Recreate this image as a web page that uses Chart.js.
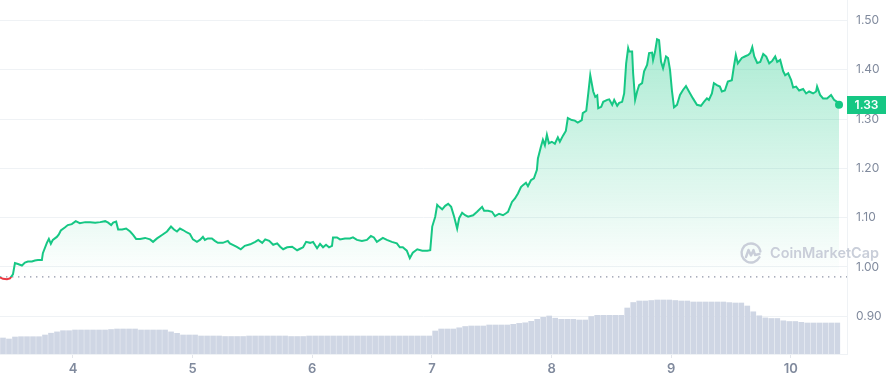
<!DOCTYPE html>
<html><head><meta charset="utf-8">
<script src="https://cdn.jsdelivr.net/npm/chart.js@4.4.0/dist/chart.umd.min.js"></script>
<style>html,body{margin:0;padding:0;background:#fff;}#wrap{width:889px;height:380px;}</style>
</head><body><div id="wrap"><canvas id="c" width="889" height="380"></canvas></div>
<script>
// ---- data (hours since start of the 7-day window) ----
const priceHours = [
0.0,0.6,1.4,2.0,2.6,3.0,3.6,4.4,5.0,5.6,6.4,7.0,7.6,8.4,8.6,9.4,9.8,10.2,10.6,11.4,
11.8,12.2,13.0,13.6,14.4,15.2,16.0,17.1,18.1,19.1,20.1,21.1,21.7,22.3,22.7,23.3,23.7,24.5,25.3,26.1,
26.7,27.3,28.1,29.1,30.1,
30.7,31.5,32.5,33.5,34.3,34.9,35.5,36.1,36.7,37.5,38.1,38.7,39.5,40.1,40.7,41.1,41.7,42.5,43.1,43.7,
44.7,45.7,46.1,46.7,47.5,48.3,49.1,50.2,51.2,51.8,52.6,53.2,54.0,54.8,55.6,56.2,56.8,57.6,58.6,59.6,
60.2,60.8,61.4,62.2,62.8,63.6,64.2,64.8,65.4,66.0,66.6,66.8,67.6,68.2,69.2,70.2,70.8,71.6,72.6,73.6,
74.4,75.0,75.6,76.8,77.6,78.6,79.6,80.2,80.8,81.6,82.2,82.8,83.7,84.7,85.7,86.3,86.7,87.3,87.7,88.1,
88.7,89.3,89.9,
90.5,91.1,91.7,92.1,92.7,93.3,93.9,94.9,95.7,96.7,97.1,97.9,98.7,99.3,100.1,100.9,101.5,101.9,102.7,103.3,
103.9,104.5,104.9,105.5,105.9,106.5,107.1,107.7,107.9,108.5,108.9,109.3,109.7,110.1,110.7,111.3,111.9,112.3,112.9,113.5,
113.9,114.7,115.3,115.9,116.7,116.9,117.6,118.0,118.4,
119.0,119.4,119.8,120.0,120.6,121.0,121.8,122.2,122.8,123.2,123.8,124.2,124.8,125.2,125.6,126.0,126.2,126.8,127.0,127.4,
127.8,128.2,128.8,129.2,129.8,130.2,130.8,131.0,131.4,131.8,132.2,132.6,133.0,133.6,134.0,134.4,134.8,135.2,135.8,136.4,
137.0,137.6,138.2,139.0,139.8,140.6,141.2,141.8,142.2,142.8,143.2,143.8,144.4,
144.8,145.4,146.0,146.8,147.2,147.6,148.0,148.8,149.4,150.1,150.5,150.9,151.3,151.9,152.5,153.1,153.7,154.3,154.9,155.5,
155.9,156.5,157.1,157.5,158.1,158.7,159.1,159.7,160.3,161.1,161.7,162.3,163.1,163.7,163.9,164.5,165.1,165.9,166.7,167.3,
167.9,168.3
];
const priceValues = [
0.979,0.976,0.975,0.977,0.985,1.008,1.006,1.003,1.009,1.011,1.011,1.013,1.014,1.014,1.028,1.049,1.057,1.047,1.055,1.061,
1.066,1.074,1.080,1.085,1.087,1.093,1.089,1.091,1.091,1.090,1.091,1.093,1.090,1.085,1.090,1.092,1.076,1.076,1.078,1.072,
1.065,1.057,1.057,1.059,1.056,
1.051,1.058,1.065,1.072,1.082,1.076,1.072,1.078,1.075,1.070,1.067,1.056,1.051,1.055,1.061,1.055,1.058,1.058,1.053,1.049,
1.049,1.053,1.048,1.045,1.041,1.036,1.043,1.046,1.051,1.055,1.049,1.056,1.053,1.045,1.048,1.041,1.036,1.040,1.041,1.034,
1.037,1.040,1.051,1.049,1.051,1.038,1.047,1.040,1.045,1.040,1.043,1.060,1.060,1.056,1.058,1.058,1.060,1.055,1.053,1.055,
1.063,1.060,1.051,1.059,1.055,1.051,1.048,1.040,1.040,1.033,1.018,1.029,1.036,1.033,1.033,1.034,1.082,1.102,1.126,1.122,
1.117,1.124,1.128,
1.122,1.102,1.078,1.099,1.110,1.105,1.102,1.105,1.112,1.122,1.114,1.114,1.112,1.103,1.108,1.105,1.109,1.112,1.132,1.139,
1.149,1.162,1.166,1.171,1.164,1.176,1.180,1.197,1.220,1.244,1.258,1.247,1.268,1.251,1.254,1.250,1.263,1.254,1.266,1.276,
1.302,1.298,1.297,1.293,1.298,1.312,1.317,1.352,1.389,
1.356,1.345,1.348,1.322,1.325,1.335,1.339,1.340,1.329,1.339,1.327,1.333,1.335,1.352,1.413,1.444,1.437,1.437,1.393,1.339,
1.356,1.369,1.373,1.397,1.410,1.434,1.435,1.420,1.437,1.462,1.460,1.416,1.403,1.427,1.424,1.400,1.356,1.324,1.329,1.349,
1.359,1.367,1.356,1.342,1.329,1.327,1.335,1.342,1.339,1.352,1.373,1.369,1.366,
1.356,1.358,1.376,1.379,1.406,1.430,1.413,1.424,1.427,1.430,1.434,1.446,1.427,1.414,1.416,1.432,1.427,1.413,1.418,1.427,
1.416,1.420,1.397,1.389,1.393,1.379,1.364,1.366,1.358,1.361,1.352,1.356,1.352,1.356,1.366,1.349,1.342,1.342,1.349,1.339,
1.335,1.329
];
// rolling volume (relative units), one bar per interval
const volumeValues = [
16,15,17,17.3,17.3,17.3,17.3,19,20.8,22.1,
23.3,23.3,24,24,24,24,24,24,24.5,25,
25,25,25,24,24,24,24,24,22.1,20.7,
19,19,19,18,18,18,18,17.5,17.5,17.5,
17.5,18,18,18,18,18,18,18,17.5,17.5,
17.5,18,18,18,18,18,18,18,18,18,
18,18,18,18,18,18,18,18,18,18,
18,18,23,25,25,25,26.2,27.5,28,28,
28,29,29,29,29,29.7,30.6,31.2,32.7,34.7,
36.7,38,35.8,34.7,34.7,34.7,34,34,37.5,38.7,
38.7,38.7,38.7,38.7,46,51.5,53,53,53.5,54,
54,54,53.5,53,53,52,52,52,52,52,
52,51.4,51,51,48,42.2,38.2,36.1,35.5,35.5,
33.2,32.5,32.5,31.7,31,31,31,31,31,31
];
const volumeStartHour = 0.6;
const volumeStepHours = 1.204;
const dayLabels = ['4','5','6','7','8','9','10'];
const firstDayHour = 14.64;
const windowEndHour = 169.9;
const yTicks = [0.90,1.00,1.10,1.20,1.30,1.40,1.50];
const baselinePrice = 0.98;

const GREEN = '#16c784', RED = '#ea3943';

const priceData = priceHours.map((h, i) => ({x: h, y: priceValues[i]}));
const volumeData = volumeValues.map((v, i) => ({x: volumeStartHour + i * volumeStepHours, y: v}));
const lastIdx = priceValues.length - 1;

function splitGradient(chart, aboveTop, aboveBase, belowBase, belowBottom) {
  const {ctx, chartArea, scales} = chart;
  if (!chartArea) return null;
  const yb = scales.y.getPixelForValue(baselinePrice);
  const f = Math.min(1, Math.max(0, (yb - chartArea.top) / (chartArea.bottom - chartArea.top)));
  const g = ctx.createLinearGradient(0, chartArea.top, 0, chartArea.bottom);
  g.addColorStop(0, aboveTop); g.addColorStop(f, aboveBase);
  g.addColorStop(f, belowBase); g.addColorStop(1, belowBottom);
  return g;
}

const lastPricePlugin = {
  id: 'lastPrice',
  afterDatasetsDraw(chart) {
    const {ctx, chartArea, scales} = chart;
    const v = priceValues[lastIdx];
    const y = scales.y.getPixelForValue(v);
    ctx.save();
    ctx.fillStyle = GREEN;
    ctx.fillRect(chartArea.right, Math.round(y) - 9, 39, 18);
    ctx.fillStyle = '#fff';
    ctx.font = '600 12px Inter';
    ctx.textAlign = 'center'; ctx.textBaseline = 'middle';
    ctx.fillText(v.toFixed(2), chartArea.right + 19.5, Math.round(y) + 0.5);
    ctx.restore();
  }
};

const watermarkPlugin = {
  id: 'watermark',
  afterDatasetsDraw(chart) {
    const {ctx, chartArea} = chart;
    const cx = chartArea.right - 96, cy = 253;
    ctx.save();
    ctx.strokeStyle = '#c9ced9'; ctx.fillStyle = '#c9ced9';
    ctx.lineWidth = 2.4; ctx.lineCap = 'round'; ctx.lineJoin = 'round';
    ctx.beginPath(); ctx.arc(cx, cy, 9.5, 0.15 * Math.PI, 1.95 * Math.PI); ctx.stroke();
    ctx.beginPath();
    ctx.moveTo(cx - 5, cy + 4); ctx.lineTo(cx - 2.5, cy - 3); ctx.lineTo(cx, cy + 2.5);
    ctx.lineTo(cx + 2.5, cy - 3); ctx.lineTo(cx + 4, cy + 2); ctx.lineTo(cx + 8.5, cy + 1);
    ctx.stroke();
    ctx.font = '600 15px Inter';
    ctx.textBaseline = 'middle'; ctx.textAlign = 'left';
    const txt = 'CoinMarketCap';
    const w = ctx.measureText(txt).width;
    const size = 15 * 109 / w;
    ctx.font = '600 ' + size.toFixed(2) + 'px Inter';
    ctx.fillText(txt, chartArea.right - 77, cy + 1);
    ctx.restore();
  }
};

new Chart(document.getElementById('c'), {
  data: {
    datasets: [
      {
        type: 'line', data: priceData, yAxisID: 'y', order: 1,
        borderWidth: 2, tension: 0,
        borderColor: c => splitGradient(c.chart, GREEN, GREEN, RED, RED) || GREEN,
        backgroundColor: c => splitGradient(c.chart, 'rgba(22,199,132,0.42)', 'rgba(22,199,132,0.0)', 'rgba(234,57,67,0.0)', 'rgba(234,57,67,0.15)') || 'rgba(22,199,132,0.2)',
        fill: {value: baselinePrice},
        pointRadius: c => c.dataIndex === lastIdx ? 4 : 0,
        pointBackgroundColor: GREEN, pointBorderWidth: 0, pointHoverRadius: 0
      },
      {
        type: 'line', data: [{x: 0, y: baselinePrice}, {x: windowEndHour, y: baselinePrice}], yAxisID: 'y', order: 2,
        borderColor: '#8e95a7', borderWidth: 1.4, borderDash: [1.4, 4.6], pointRadius: 0, fill: false
      },
      {
        type: 'bar', data: volumeData, yAxisID: 'yv', order: 3,
        backgroundColor: '#cfd6e4', barThickness: 5, borderWidth: 0
      }
    ]
  },
  options: {
    responsive: false, animation: false, devicePixelRatio: 1,
    layout: {padding: 0, autoPadding: false},
    plugins: {legend: {display: false}, tooltip: {enabled: false}},
    scales: {
      x: {
        type: 'linear', position: 'bottom', min: 0, max: windowEndHour, offset: false,
        afterFit(s) { s.height = 26; s.paddingLeft = 0; s.paddingRight = 0; },
        afterBuildTicks(s) { s.ticks = dayLabels.map((_, i) => ({value: firstDayHour + 24 * i})); },
        ticks: {callback: (v, i) => dayLabels[i], color: '#808a9d', font: {family: 'Inter', size: 13, weight: '600'}, padding: 3, maxRotation: 0, autoSkip: false},
        grid: {drawOnChartArea: false, drawTicks: true, tickLength: 4, color: '#e3e6eb', offset: false},
        border: {display: true, color: '#eff2f5'}
      },
      y: {
        type: 'linear', position: 'right', min: 0.8235, max: 1.5416,
        afterFit(s) { s.width = 42; s.paddingTop = 0; s.paddingBottom = 0; },
        afterBuildTicks(s) { s.ticks = yTicks.map(v => ({value: v})); },
        ticks: {callback: v => v.toFixed(2), color: '#808a9d', font: {family: 'Inter', size: 12}, padding: 9},
        grid: {color: '#eff2f5', drawTicks: false},
        border: {display: true, color: '#eff2f5'}
      },
      yv: {type: 'linear', display: false, min: 0, max: 354}
    }
  },
  plugins: [lastPricePlugin, watermarkPlugin]
});
</script></body></html>
